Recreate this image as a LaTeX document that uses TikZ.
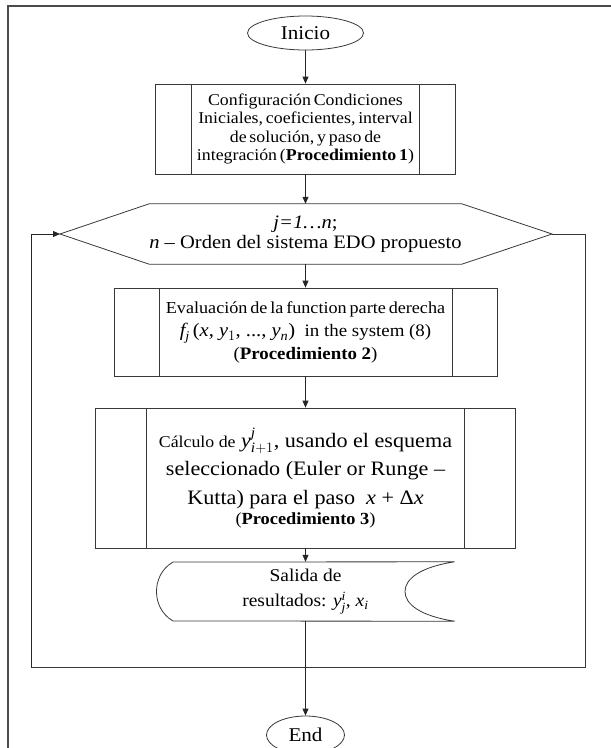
\documentclass[tikz,border=0pt]{standalone}
\usepackage{amsmath}
\usepackage{fontspec}
\setmainfont{Liberation Serif}[FakeStretch=1.08]
\usetikzlibrary{arrows.meta,shapes.geometric,calc}
\tikzset{
  base/.style={draw=black!78, line width=0.8pt},
  term/.style={base, ellipse, inner sep=0pt, font=\fontsize{19.5}{22}\selectfont},
  procbox/.style={base, rectangle, inner sep=0pt, align=center},
  hid/.style={inner sep=0pt, align=center},
  flow/.style={draw=black!85, line width=0.8pt, -{Triangle[length=7pt,width=6pt]}},
  loopline/.style={draw=black!78, line width=0.8pt},
  frame/.style={draw=black!70, line width=1.4pt},
}
\newcommand{\vi}[1]{\textit{#1}}
\newcommand{\tight}{\spaceskip=0.17em plus 0.05em\relax}
\begin{document}
\begin{tikzpicture}[x=1pt,y=-1pt]
\useasboundingbox (0,0) rectangle (611,748);
\draw[frame] (8,748) -- (8,6) -- (611,6);

% terminals
\node[term, minimum width=116, minimum height=34] (start) at (305.5,33) {Inicio};
\node[term, minimum width=78, minimum height=38] (fin) at (305.5,735) {End};

% procedure 1
\node[procbox, minimum width=300, minimum height=90, font=\fontsize{16.5}{18.6}\selectfont\tight] (p1) at (305.5,129)
  {Configuración Condiciones\\ Iniciales, coeficientes, interval\\ de solución, y paso de\\ integración (\textbf{Procedimiento 1})};
\draw[base] ($(p1.north west)+(36,0)$) -- ($(p1.south west)+(36,0)$);
\draw[base] ($(p1.north east)+(-37,0)$) -- ($(p1.south east)+(-37,0)$);

% loop hexagon
\node[hid, minimum width=292, minimum height=60, font=\fontsize{19}{19.5}\selectfont] (dec) at (305.5,234)
  {\vi{j=1…n};\\ \vi{n} – Orden del sistema EDO propuesto};
\coordinate (hl) at (60,234);
\coordinate (hr) at (552,234);
\draw[base] (hl) -- (dec.north west) -- (dec.north east) -- (hr) -- (dec.south east) -- (dec.south west) -- cycle;

% procedure 2
\node[procbox, minimum width=383, minimum height=88, font=\fontsize{17.5}{23}\selectfont] (p2) at (305.5,332)
  {{\fontsize{16.8}{23}\selectfont\tight Evaluación de la function parte derecha}\\
   {\fontsize{19}{21}\selectfont $\vi{f}_{\vi{j}}\,$(\vi{x}, $\vi{y}_1$, ..., $\vi{y}_{\vi{n}}$)} \ in the system (8)\\
   {\fontsize{17.5}{20}\selectfont (\textbf{Procedimiento 2})}};
\draw[base] ($(p2.north west)+(46,0)$) -- ($(p2.south west)+(46,0)$);
\draw[base] ($(p2.north east)+(-45,0)$) -- ($(p2.south east)+(-45,0)$);

% procedure 3
\node[procbox, minimum width=420, minimum height=140, font=\fontsize{20.5}{28.5}\selectfont] (p3) at (305.5,478)
  {{\fontsize{16.5}{28}\selectfont Cálculo de} $\vi{y}^{\vi{j}}_{\vi{i}+1}$, usando el esquema\\
   seleccionado (Euler or Runge –\\
   Kutta) para el paso \ \vi{x} + Δ\vi{x}\\[-8pt]
   {\fontsize{17}{18}\selectfont (\textbf{Procedimiento 3})}};
\draw[base] ($(p3.north west)+(51,0)$) -- ($(p3.south west)+(51,0)$);
\draw[base] ($(p3.north east)+(-52,0)$) -- ($(p3.south east)+(-52,0)$);

% output
\node[hid, minimum width=298, minimum height=59, font=\fontsize{18}{25}\selectfont] (out) at (305.5,591.5)
  {Salida de\\ resultados: $\vi{y}^{\vi{i}}_{\vi{j}}$, \vi{x}\textsubscript{\vi{i}}};
\draw[base] (out.north east) -- (173,562)
  .. controls (161,569) and (156.5,581) .. (156.5,591.5)
  .. controls (156.5,602) and (161,614) .. (173,621)
  -- (out.south east)
  .. controls (420,616) and (405,604) .. (405,591.5)
  .. controls (405,579) and (420,567) .. (out.north east);

% loop return
\coordinate (rb) at (585,667);
\coordinate (lb) at (31,667);
\draw[loopline] (hr) -| (rb) -- (lb);
\draw[flow] (lb) |- (hl);

% main flow
\draw[flow] (start) -- (p1);
\draw[flow] (p1) -- (dec.north);
\draw[flow] (dec.south) -- (p2);
\draw[flow] (p2) -- (p3);
\draw[flow] (p3) -- (out.north);
\draw[flow] (out.south) -- (fin);
\end{tikzpicture}
\end{document}
